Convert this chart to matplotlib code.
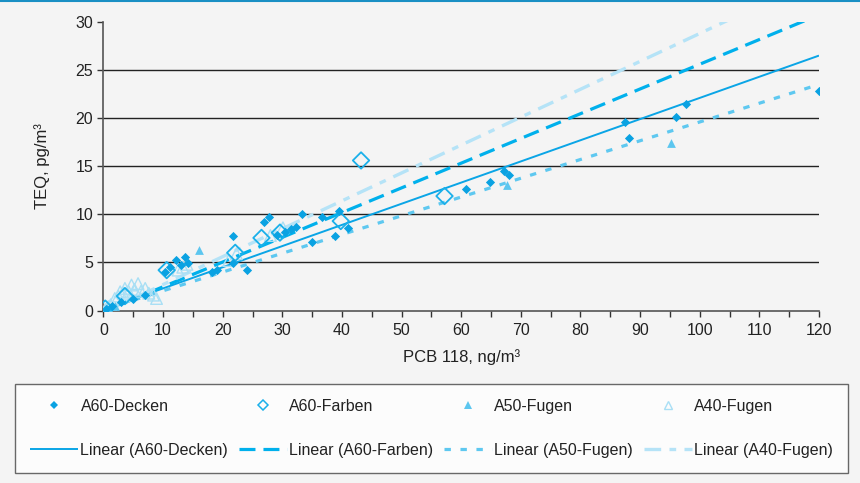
import matplotlib
matplotlib.use("Agg")
import matplotlib.pyplot as plt
import numpy as np
from matplotlib.lines import Line2D

# -----------------------------
# DATA
# -----------------------------
DECKEN_X = [0.5, 1.5, 3.0, 5.0, 7.0, 10.3, 11.2, 12.2, 13.0, 13.6, 14.1, 18.2, 19.0,
            21.7, 21.8, 24.0, 26.9, 27.8, 29.1, 30.5, 31.5, 32.3, 33.3, 35.0, 36.6,
            38.8, 39.5, 41.0, 60.8, 64.9, 67.1, 68.0, 87.5, 88.1, 96.1, 97.7, 120.0]
DECKEN_Y = [0.2, 0.5, 0.9, 1.2, 1.6, 4.0, 4.55, 5.2, 4.7, 5.6, 4.9, 4.0, 4.2,
            7.75, 4.9, 4.2, 9.2, 9.75, 7.85, 8.2, 8.5, 8.7, 10.0, 7.15, 9.7,
            7.75, 10.35, 8.6, 12.6, 13.4, 14.5, 14.05, 19.6, 17.9, 20.1, 21.5, 22.8]

FARBEN_X = [0.3, 3.6, 10.6, 22.1, 26.5, 29.6, 39.8, 43.2, 57.2]
FARBEN_Y = [0.2, 1.5, 4.2, 6.0, 7.55, 8.1, 9.3, 15.6, 11.9]

A50_X = [0.2, 0.6, 1.0, 2.0, 16.0, 67.6, 95.2]
A50_Y = [0.1, 0.3, 0.2, 0.5, 6.3, 13.05, 17.45]

A40_X = [0.3, 0.8, 1.2, 1.9, 2.5, 2.8, 3.3, 3.6, 4.2, 4.7, 5.2, 5.8, 6.3, 7.0,
         7.6, 8.4, 8.9, 12.5, 13.3, 14.0, 21.0, 22.3, 28.0, 30.1]
A40_Y = [0.1, 0.4, 0.6, 1.25, 1.5, 1.95, 1.8, 2.3, 2.0, 2.65, 2.2, 2.8, 2.0, 2.3,
         1.8, 1.6, 1.25, 4.2, 4.5, 4.8, 5.2, 5.9, 7.8, 8.6]

SERIES = ["A60-Decken", "A60-Farben", "A50-Fugen", "A40-Fugen"]
# linear trendline coefficients (slope, intercept) as shown in the chart
TREND_SLOPE = [0.220, 0.257, 0.195, 0.290]
TREND_ICEPT = [0.10, -0.10, 0.10, -0.20]

X_TICKS = list(range(0, 121, 10))
Y_TICKS = list(range(0, 31, 5))

# -----------------------------
# STYLE
# -----------------------------
BG = "#f4f4f4"
TXT = "#222222"
plt.rcParams["font.family"] = ["Liberation Sans", "DejaVu Sans"]

COLORS_MARK = ["#0aa2e2", "#1ab0ea", "#5cc6ef", "#a9dff5"]
COLORS_LINE = ["#0aa5e6", "#00b0ec", "#5ec8f0", "#b5e3f7"]

fig = plt.figure(figsize=(8.6, 4.83), dpi=100, facecolor=BG)
ax = fig.add_axes([0.1203, 0.3571, 0.832, 0.5975])
ax.set_facecolor(BG)

# top blue rule
fig.add_artist(Line2D([0, 1], [0.998, 0.998], transform=fig.transFigure,
                      color="#1a8fc4", lw=1.5))

# horizontal grid lines (none at 0 and 30)
ax.hlines(Y_TICKS[1:-1], 0, 120, colors=TXT, lw=1.0, zorder=1)

# trend lines
xs = np.array([0, 120])
styles = [
    dict(ls="-", lw=1.4),
    dict(ls=(0, (5, 2.5)), lw=2.3),
    dict(ls=(0, (2, 3)), lw=2.3),
    dict(ls=(0, (5, 2.5, 2, 2.5)), lw=2.4),
]
line_handles = []
for i, name in enumerate(SERIES):
    (h,) = ax.plot(xs, TREND_SLOPE[i] * xs + TREND_ICEPT[i], color=COLORS_LINE[i],
                   zorder=3, solid_capstyle="butt", dash_capstyle="butt", **styles[i])
    line_handles.append(h)

# scatter series
ax.scatter(A40_X, A40_Y, marker="^", s=70, facecolors="none",
           edgecolors=COLORS_MARK[3], linewidths=1.0, zorder=4)
ax.scatter(A50_X, A50_Y, marker="^", s=40, color=COLORS_MARK[2], lw=0, zorder=5)
ax.scatter(FARBEN_X, FARBEN_Y, marker="D", s=70, facecolors="none",
           edgecolors=COLORS_MARK[1], linewidths=1.3, zorder=6)
ax.scatter(DECKEN_X, DECKEN_Y, marker="D", s=22, color=COLORS_MARK[0], lw=0, zorder=7)

ax.set_xlim(0, 120)
ax.set_ylim(0, 30)
ax.set_xticks(X_TICKS)
ax.set_xticks(range(5, 120, 10), minor=True)
ax.set_yticks(Y_TICKS)
for side in ("top", "right"):
    ax.spines[side].set_visible(False)
for side in ("left", "bottom"):
    ax.spines[side].set_color("#555555")
    ax.spines[side].set_linewidth(1.2)
ax.tick_params(axis="both", which="both", direction="out", length=4, width=1.0,
               color="#333333", labelsize=11.5, labelcolor=TXT)
ax.tick_params(axis="x", pad=5)

ax.set_xlabel("PCB 118, ng/m³", fontsize=12, color=TXT, labelpad=8)
ax.set_ylabel("TEQ, pg/m³", fontsize=12, color=TXT, labelpad=18)

# legend proxies with small markers, like the reference legend
mark_handles = [
    Line2D([], [], ls="", marker="D", ms=4, color=COLORS_MARK[0], mew=0),
    Line2D([], [], ls="", marker="D", ms=5, mfc="none", mec=COLORS_MARK[1], mew=1.1),
    Line2D([], [], ls="", marker="^", ms=5.5, color=COLORS_MARK[2], mew=0),
    Line2D([], [], ls="", marker="^", ms=6, mfc="none", mec=COLORS_MARK[3], mew=1.0),
]
handles, labels = [], []
for mh, lh, name in zip(mark_handles, line_handles, SERIES):
    handles += [mh, lh]
    labels += [name, f"Linear ({name})"]

leg = fig.legend(handles, labels, ncol=4, loc="lower left",
                 bbox_to_anchor=(15 / 860, 1 - 473 / 483, 833 / 860, 88 / 483),
                 mode="expand", fontsize=11.5, frameon=True, fancybox=False,
                 handlelength=3.0, handletextpad=0.15, labelspacing=1.8,
                 borderaxespad=0, borderpad=0.95, columnspacing=0.3,
                 numpoints=1)
frame = leg.get_frame()
frame.set_facecolor("white")
frame.set_edgecolor("#444444")
frame.set_linewidth(1.0)
for t in leg.get_texts():
    t.set_color(TXT)

fig.savefig("out.png", dpi=100, facecolor=BG)
